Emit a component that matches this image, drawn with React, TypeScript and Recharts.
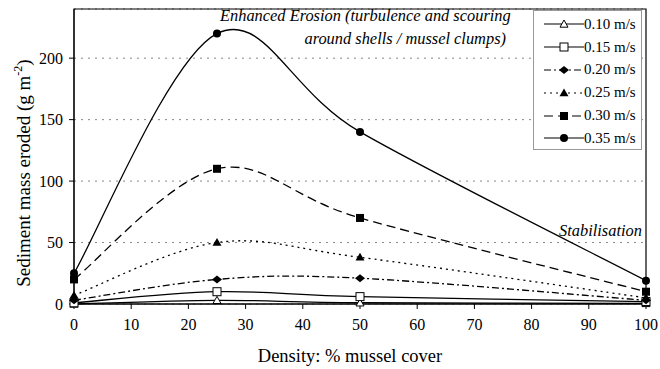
import React from 'react';
import {
  CartesianGrid,
  Line,
  LineChart,
  ReferenceArea,
  XAxis,
  YAxis,
} from 'recharts';

/* ------------------------------------------------------------------ */
/*  Data                                                              */
/* ------------------------------------------------------------------ */

const densities = [0, 25, 50, 100];
const v010 = [0, 3, 1, 0.5];
const v015 = [1, 10, 6, 2];
const v020 = [3, 20, 21, 3];
const v025 = [7, 50, 38, 5];
const v030 = [20, 110, 70, 10];
const v035 = [25, 220, 140, 19];

const xTicks = [0, 10, 20, 30, 40, 50, 60, 70, 80, 90, 100];
const yTicks = [0, 50, 100, 150, 200];

const data = densities.map((d, i) => ({
  density: d,
  s010: v010[i],
  s015: v015[i],
  s020: v020[i],
  s025: v025[i],
  s030: v030[i],
  s035: v035[i],
}));

const FONT = '"Liberation Serif", "Times New Roman", serif';

const textStyle = (extra: React.CSSProperties): React.CSSProperties => ({
  position: 'absolute',
  fontFamily: FONT,
  whiteSpace: 'nowrap',
  color: '#000',
  ...extra,
});

/* ------------------------------------------------------------------ */
/*  Excel-like smoothed curve (Catmull-Rom as bezier)                 */
/* ------------------------------------------------------------------ */

function smoothCurve(context: any) {
  let pts: number[][] = [];
  return {
    areaStart() {},
    areaEnd() {},
    lineStart() {
      pts = [];
    },
    point(x: number, y: number) {
      pts.push([+x, +y]);
    },
    lineEnd() {
      const n = pts.length;
      if (!n) return;
      context.moveTo(pts[0][0], pts[0][1]);
      for (let i = 0; i < n - 1; i++) {
        const p0 = pts[Math.max(i - 1, 0)];
        const p1 = pts[i];
        const p2 = pts[i + 1];
        const p3 = pts[Math.min(i + 2, n - 1)];
        context.bezierCurveTo(
          p1[0] + (p2[0] - p0[0]) / 6,
          p1[1] + (p2[1] - p0[1]) / 6,
          p2[0] - (p3[0] - p1[0]) / 6,
          p2[1] - (p3[1] - p1[1]) / 6,
          p2[0],
          p2[1],
        );
      }
    },
  };
}

/* ------------------------------------------------------------------ */
/*  Markers                                                           */
/* ------------------------------------------------------------------ */

type MarkerKind = 'triOpen' | 'squareOpen' | 'diamond' | 'tri' | 'square' | 'circle';

function Marker({ kind, cx, cy }: { kind: MarkerKind; cx: number; cy: number }) {
  const s = 4;
  switch (kind) {
    case 'triOpen':
      return (
        <polygon
          points={`${cx},${cy - s} ${cx + s},${cy + s * 0.8} ${cx - s},${cy + s * 0.8}`}
          fill="#fff"
          stroke="#000"
          strokeWidth={1}
        />
      );
    case 'tri':
      return (
        <polygon
          points={`${cx},${cy - s - 0.5} ${cx + s + 0.5},${cy + s * 0.8} ${cx - s - 0.5},${cy + s * 0.8}`}
          fill="#000"
        />
      );
    case 'squareOpen':
      return <rect x={cx - s} y={cy - s} width={2 * s} height={2 * s} fill="#fff" stroke="#000" strokeWidth={1} />;
    case 'square':
      return <rect x={cx - s} y={cy - s} width={2 * s} height={2 * s} fill="#000" />;
    case 'diamond':
      return <polygon points={`${cx},${cy - s} ${cx + s + 1},${cy} ${cx},${cy + s} ${cx - s - 1},${cy}`} fill="#000" />;
    default:
      return <circle cx={cx} cy={cy} r={s} fill="#000" />;
  }
}

const series: { key: string; label: string; marker: MarkerKind; dash?: string }[] = [
  { key: 's010', label: '0.10 m/s', marker: 'triOpen' },
  { key: 's015', label: '0.15 m/s', marker: 'squareOpen' },
  { key: 's020', label: '0.20 m/s', marker: 'diamond', dash: '7 3 2 3' },
  { key: 's025', label: '0.25 m/s', marker: 'tri', dash: '2 4' },
  { key: 's030', label: '0.30 m/s', marker: 'square', dash: '9 5' },
  { key: 's035', label: '0.35 m/s', marker: 'circle' },
];

function LegendBox() {
  return (
    <div
      style={{
        position: 'absolute',
        left: 533,
        top: 10,
        width: 109,
        height: 140,
        border: '1px solid #999',
        background: '#fff',
        boxSizing: 'border-box',
        paddingTop: 2,
      }}
    >
      {series.map((s) => (
        <div key={s.key} style={{ display: 'flex', alignItems: 'center', height: 22.8 }}>
          <svg width={40} height={14} style={{ marginLeft: 10 }}>
            <line x1={0} y1={7} x2={40} y2={7} stroke="#000" strokeWidth={1.2} strokeDasharray={s.dash} />
            <Marker kind={s.marker} cx={20} cy={7} />
          </svg>
          <span style={{ fontFamily: FONT, fontSize: 15, color: '#000' }}>{s.label}</span>
        </div>
      ))}
    </div>
  );
}

const tickStyle = { fontSize: 16, fill: '#000', fontFamily: FONT };

/* ------------------------------------------------------------------ */
/*  Chart                                                             */
/* ------------------------------------------------------------------ */

export default function App() {
  return (
    <div style={{ position: 'absolute', left: 0, top: 0, width: 660, height: 369, background: '#fff', fontFamily: FONT }}>
      <LineChart width={660} height={369} data={data} margin={{ top: 9, right: 14, bottom: 0, left: 0 }}>
        <CartesianGrid vertical={false} stroke="#888" strokeDasharray="2 5" />
        <ReferenceArea x1={0} x2={100} y1={0} y2={240} fill="none" stroke="#000" strokeWidth={1.2} ifOverflow="visible" />
        <XAxis
          dataKey="density"
          type="number"
          domain={[0, 100]}
          ticks={xTicks}
          height={65}
          tickSize={5}
          tickMargin={10}
          stroke="#000"
          tick={tickStyle}
        />
        <YAxis
          type="number"
          domain={[0, 240]}
          ticks={yTicks}
          width={74}
          tickSize={5}
          tickMargin={6}
          stroke="#000"
          tick={tickStyle}
        />
        {series.map((s) => (
          <Line
            key={s.key}
            dataKey={s.key}
            name={s.label}
            type={smoothCurve as any}
            stroke="#000"
            strokeWidth={1.3}
            strokeDasharray={s.dash}
            isAnimationActive={false}
            dot={(p: any) => <Marker key={`${s.key}-${p.index}`} kind={s.marker} cx={p.cx} cy={p.cy} />}
            activeDot={false}
          />
        ))}
      </LineChart>

      <LegendBox />

      <div style={textStyle({ left: 220, top: 6, fontSize: 16.4, fontStyle: 'italic' })}>
        Enhanced Erosion (turbulence and scouring
      </div>
      <div style={textStyle({ left: 250, width: 256, top: 29, textAlign: 'right', fontSize: 16.4, fontStyle: 'italic' })}>
        around shells / mussel clumps)
      </div>
      <div style={textStyle({ left: 559, top: 221, fontSize: 16.4, fontStyle: 'italic' })}>
        Stabilisation
      </div>

      <div
        style={textStyle({
          left: 23,
          top: 173,
          transform: 'translate(-50%, -50%) rotate(-90deg)',
          fontSize: 19,
        })}
      >
        Sediment mass eroded (g m<sup style={{ fontSize: 12 }}>-2</sup>)
      </div>
      <div style={textStyle({ left: 0, width: 700, top: 346, textAlign: 'center', fontSize: 18.5 })}>
        Density: % mussel cover
      </div>
    </div>
  );
}
